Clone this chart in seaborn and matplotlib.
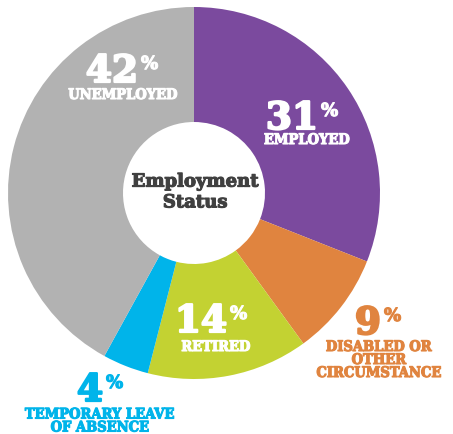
import matplotlib
matplotlib.use("Agg")
import matplotlib.pyplot as plt
import matplotlib.patheffects as pe
import seaborn as sns

categories = ["EMPLOYED", "DISABLED OR\nOTHER\nCIRCUMSTANCE", "RETIRED",
              "TEMPORARY LEAVE\nOF ABSENCE", "UNEMPLOYED"]
values = [31, 9, 14, 4, 42]
pct_labels = ["31", "9", "14", "4", "42"]
colors = ["#7B4A9E", "#E0843F", "#C3D232", "#00B4EA", "#B2B2B2"]
center_title = "Employment\nStatus"

sns.set_style("white")
plt.rcParams['font.family'] = ['DejaVu Serif', 'DejaVu Sans']

W, H = 453, 435
fig = plt.figure(figsize=(W / 100, H / 100), dpi=100)
ax = fig.add_axes([0, 0, 1, 1])

cx, cy, R, r_in = 194, H - 194, 186, 71
palette = sns.color_palette(colors)
ax.pie(values, colors=palette, startangle=90, counterclock=False,
       center=(cx, cy), radius=R, frame=True,
       wedgeprops=dict(width=R - r_in, linewidth=0))
ax.set_xlim(0, W)
ax.set_ylim(0, H)
ax.set_aspect('equal')
ax.axis('off')

# label layout: (number right edge x, number baseline y px, cat center x, cat first-line baseline y px, text color)
layout = [
    (318, 130, 307, 145, "white"),
    (381, 335, 379, 352, colors[1]),
    (227, 333, 216, 352, "white"),
    (103, 402, 100, 419.5, colors[3]),
    (138, 83, 123, 100, "white"),
]
line_h = 13
for (nx, ny, lx, ly, col), num, cat in zip(layout, pct_labels, categories):
    ax.text(nx, H - ny, num, ha='right', va='baseline', fontsize=27,
            fontweight='bold', color=col,
            path_effects=[pe.withStroke(linewidth=1.6, foreground=col)])
    ax.text(nx + 3, H - ny + 13, "%", ha='left', va='baseline', fontsize=13,
            fontweight='bold', color=col,
            path_effects=[pe.withStroke(linewidth=0.8, foreground=col)])
    for i, line in enumerate(cat.split("\n")):
        ax.text(lx, H - (ly + i * line_h), line, ha='center', va='baseline',
                fontsize=10.5, fontweight='bold', fontstretch='condensed',
                color=col,
                path_effects=[pe.withStroke(linewidth=0.8, foreground=col)])

ax.text(cx + 1, H - 193, center_title, ha='center', va='center', fontsize=13,
        fontweight='bold', color="#404040", linespacing=1.2,
        path_effects=[pe.withStroke(linewidth=0.8, foreground="#404040")])

fig.savefig("out.png", dpi=100, facecolor="white")
